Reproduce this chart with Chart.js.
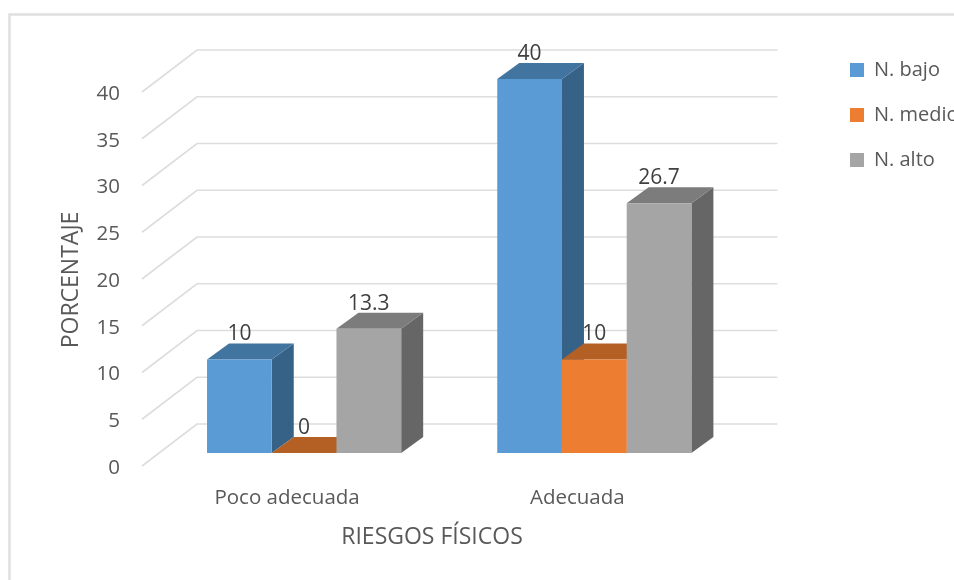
<!DOCTYPE html>
<html lang="es">
<head>
<meta charset="utf-8">
<title>Riesgos físicos</title>
<script src="https://cdn.jsdelivr.net/npm/chart.js@4"></script>
<style>
  html, body { margin: 0; padding: 0; background: #fff; overflow: hidden; }
  #wrap { position: relative; width: 954px; height: 580px; }
</style>
</head>
<body>
<div id="wrap"><canvas id="grafico"></canvas></div>
<script>
const categorias = ['Poco adecuada', 'Adecuada'];
const nivelBajo = [10, 40];
const nivelMedio = [0, 10];
const nivelAlto = [13.3, 26.7];
const marcasEje = [0, 5, 10, 15, 20, 25, 30, 35, 40];

const FUENTE = '"Open Sans", sans-serif';
const GRIS_TEXTO = '#595959';

// desplazamientos de la perspectiva respecto al plano frontal de las barras
const PROF_BARRA = { x: 22, y: -16 };
const PISO_FRENTE = { x: -17, y: 13 };
const PISO_FONDO = { x: 38, y: -29 };

const coloresCaras = [
    { frente: '#5B9BD5', techo: '#4274A0', lado: '#376287' },
    { frente: '#ED7D31', techo: '#B45F24', lado: '#9C5120' },
    { frente: '#A5A5A5', techo: '#7C7C7C', lado: '#666666' }
];

function poligono(ctx, puntos, color) {
    ctx.fillStyle = color;
    ctx.beginPath();
    puntos.forEach(([x, y], i) => (i ? ctx.lineTo(x, y) : ctx.moveTo(x, y)));
    ctx.closePath();
    ctx.fill();
}

// Marco exterior y rejilla: pared lateral más pared del fondo
const fondo3d = {
    id: 'fondo3d',
    beforeDraw(chart) {
        const { ctx, chartArea, scales } = chart;
        ctx.save();
        ctx.fillStyle = '#fff';
        ctx.fillRect(0, 0, chart.width, chart.height);
        ctx.strokeStyle = '#e0e0e0';
        ctx.lineWidth = 2.5;
        ctx.beginPath();
        ctx.moveTo(9.5, chart.height);
        ctx.lineTo(9.5, 14.5);
        ctx.lineTo(chart.width, 14.5);
        ctx.stroke();

        ctx.strokeStyle = '#dddddd';
        ctx.lineWidth = 1.6;
        marcasEje.forEach(v => {
            const y = scales.y.getPixelForValue(v);
            ctx.beginPath();
            ctx.moveTo(chartArea.left + PISO_FRENTE.x, y + PISO_FRENTE.y);
            ctx.lineTo(chartArea.left + PISO_FONDO.x, y + PISO_FONDO.y);
            ctx.lineTo(chartArea.right + PISO_FONDO.x, y + PISO_FONDO.y);
            ctx.stroke();
        });
        ctx.restore();
    }
};

// Caras superior y lateral de cada barra; el frente lo dibuja Chart.js encima
const caras3d = {
    id: 'caras3d',
    beforeDatasetsDraw(chart) {
        const { ctx } = chart;
        ctx.save();
        chart.data.datasets.forEach((ds, i) => {
            chart.getDatasetMeta(i).data.forEach(barra => {
                const izq = barra.x - barra.width / 2;
                const der = barra.x + barra.width / 2;
                const dx = PROF_BARRA.x, dy = PROF_BARRA.y;
                poligono(ctx, [[der, barra.y], [der + dx, barra.y + dy], [der + dx, barra.base + dy], [der, barra.base]], coloresCaras[i].lado);
                poligono(ctx, [[izq, barra.y], [izq + dx, barra.y + dy], [der + dx, barra.y + dy], [der, barra.y]], coloresCaras[i].techo);
            });
        });
        ctx.restore();
    },
    afterDatasetsDraw(chart) {
        const { ctx } = chart;
        ctx.save();
        ctx.fillStyle = '#404040';
        ctx.font = `21px ${FUENTE}`;
        ctx.textAlign = 'center';
        ctx.textBaseline = 'middle';
        chart.data.datasets.forEach((ds, i) => {
            chart.getDatasetMeta(i).data.forEach((barra, j) => {
                ctx.fillText(String(ds.data[j]), barra.x, barra.y - 25);
            });
        });
        ctx.restore();
    }
};

// Títulos de los ejes, centrados sobre la caja 3D y no sobre el plano frontal
const titulos = {
    id: 'titulos',
    afterDraw(chart) {
        const { ctx } = chart;
        ctx.save();
        ctx.fillStyle = GRIS_TEXTO;
        ctx.font = `23px ${FUENTE}`;
        ctx.textAlign = 'center';
        ctx.textBaseline = 'middle';
        ctx.fillText('RIESGOS FÍSICOS', 432, 537);
        ctx.translate(71, 280);
        ctx.rotate(-Math.PI / 2);
        ctx.fillText('PORCENTAJE', 0, 0);
        ctx.restore();
    }
};

// La leyenda se separa del área de barras y llega hasta el borde derecho
const leyendaFija = {
    id: 'leyendaFija',
    afterLayout(chart) {
        const leyenda = chart.legend;
        leyenda.left = 825;
        leyenda.right = chart.width;
        leyenda.top = 35;
    }
};

new Chart(document.getElementById('grafico'), {
    type: 'bar',
    data: {
        labels: categorias,
        datasets: [
            { label: 'N. bajo', data: nivelBajo, backgroundColor: coloresCaras[0].frente },
            { label: 'N. medio', data: nivelMedio, backgroundColor: coloresCaras[1].frente },
            { label: 'N. alto', data: nivelAlto, backgroundColor: coloresCaras[2].frente }
        ]
    },
    options: {
        responsive: true,
        maintainAspectRatio: false,
        animation: false,
        layout: { padding: { top: 79, right: 71, bottom: 0, left: 0 } },
        datasets: { bar: { barPercentage: 1, categoryPercentage: 0.669, borderWidth: 0 } },
        plugins: {
            tooltip: { enabled: false },
            legend: {
                position: 'right',
                align: 'start',
                labels: {
                    boxWidth: 14,
                    boxHeight: 14,
                    padding: 25,
                    color: GRIS_TEXTO,
                    font: { family: FUENTE, size: 20 }
                }
            }
        },
        scales: {
            x: {
                afterFit(escala) { escala.height = 127; },
                grid: { display: false, drawTicks: false },
                border: { display: false },
                ticks: {
                    color: GRIS_TEXTO,
                    font: { family: FUENTE, size: 20.5 },
                    labelOffset: PISO_FRENTE.x,
                    padding: 33,
                    maxRotation: 0
                }
            },
            y: {
                min: 0,
                max: 40,
                afterFit(escala) { escala.width = 159; },
                grid: { display: false, drawTicks: false },
                border: { display: false },
                ticks: {
                    color: GRIS_TEXTO,
                    font: { family: FUENTE, size: 20.5 },
                    stepSize: 5,
                    labelOffset: PISO_FRENTE.y + 2,
                    padding: 39
                }
            }
        }
    },
    plugins: [fondo3d, caras3d, titulos, leyendaFija]
});
</script>
</body>
</html>
